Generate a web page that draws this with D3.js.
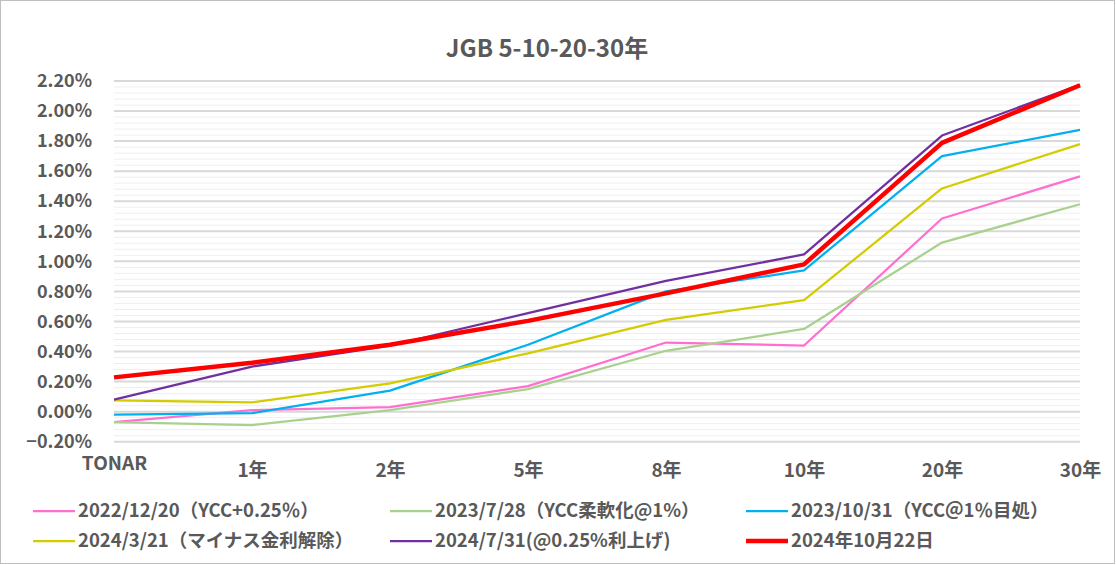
<!DOCTYPE html>
<html>
<head>
<meta charset="utf-8">
<script src="https://cdn.jsdelivr.net/npm/d3@7"></script>
<style>
  body { margin: 0; background: #fff; }
  text { font-family: "Noto Sans CJK JP", "Noto Sans", sans-serif; fill: #595959; font-weight: bold; }
</style>
</head>
<body>
<div id="chart"></div>
<script>
// --- DATA ---
var categories = ["TONAR", "1年", "2年", "5年", "8年", "10年", "20年", "30年"];
var seriesNames = [
  "2022/12/20（YCC+0.25％）",
  "2023/7/28（YCC柔軟化@1%）",
  "2023/10/31（YCC＠1％目処）",
  "2024/3/21（マイナス金利解除）",
  "2024/7/31(@0.25%利上げ)",
  "2024年10月22日"
];
var yield20221220 = [-0.07, 0.01, 0.03, 0.17, 0.46, 0.44, 1.285, 1.565];
var yield20230728 = [-0.07, -0.09, 0.01, 0.15, 0.405, 0.55, 1.125, 1.38];
var yield20231031 = [-0.02, -0.01, 0.14, 0.445, 0.80, 0.94, 1.70, 1.875];
var yield20240321 = [0.075, 0.062, 0.188, 0.388, 0.61, 0.742, 1.485, 1.78];
var yield20240731 = [0.08, 0.30, 0.44, 0.655, 0.87, 1.046, 1.837, 2.175];
var yield20241022 = [0.228, 0.325, 0.445, 0.604, 0.787, 0.98, 1.788, 2.172];
var yTicks = [-0.2, 0, 0.2, 0.4, 0.6, 0.8, 1.0, 1.2, 1.4, 1.6, 1.8, 2.0, 2.2];

var allSeries = [yield20221220, yield20230728, yield20231031, yield20240321, yield20240731, yield20241022];
var colors = ["#ff6fcf", "#a9d18e", "#00b0f0", "#d4cb00", "#7030a0", "#ff0000"];
var widths = [2.25, 2.25, 2.25, 2.25, 2.25, 4.5];

// --- SETUP ---
var width = 1116, height = 565;
var svg = d3.select("#chart").append("svg")
  .attr("width", width)
  .attr("height", height);

svg.append("rect")
  .attr("x", 0.5).attr("y", 0.5)
  .attr("width", width - 2).attr("height", height - 2)
  .attr("fill", "#fff").attr("stroke", "#bfbfbf");

var x = d3.scalePoint().domain(categories).range([114, 1080]);
var y = d3.scaleLinear().domain([-0.2, 2.2]).range([441.7, 81]);

// minor gridlines (every 0.04%)
var minor = d3.range(-0.2, 2.2001, 0.04);
svg.append("g").selectAll("line").data(minor).enter().append("line")
  .attr("x1", 114).attr("x2", 1080)
  .attr("y1", d => y(d)).attr("y2", d => y(d))
  .attr("stroke", "#efefef").attr("stroke-width", 1);

// major gridlines
svg.append("g").selectAll("line").data(yTicks).enter().append("line")
  .attr("x1", 114).attr("x2", 1080)
  .attr("y1", d => y(d)).attr("y2", d => y(d))
  .attr("stroke", "#d9d9d9").attr("stroke-width", 2);

// y axis labels
var yAxis = d3.axisLeft(y).tickValues(yTicks).tickSize(0).tickPadding(0)
  .tickFormat(d => d3.format(".2f")(d) + "%");
svg.append("g").attr("transform", "translate(92,0)").call(yAxis)
  .call(g => g.select(".domain").remove())
  .selectAll("text")
  .style("font-size", "18px")
  .attr("fill", "#595959")
  .style("font-family", null);

// x axis labels (TONAR sits a little higher, as in the original)
var xAxis = d3.axisBottom(x).tickSize(0).tickPadding(0);
svg.append("g").attr("transform", "translate(0,470)").call(xAxis)
  .call(g => g.select(".domain").remove())
  .selectAll("text")
  .style("font-size", "19px")
  .attr("fill", "#595959")
  .style("font-family", null)
  .attr("dy", (d, i) => i === 0 ? "0.0em" : "0.35em");

// --- LINES ---
var line = d3.line()
  .x((d, i) => x(categories[i]))
  .y(d => y(d));

svg.append("g").selectAll("path").data(allSeries).enter().append("path")
  .attr("d", line)
  .attr("fill", "none")
  .attr("stroke", (d, i) => colors[i])
  .attr("stroke-width", (d, i) => widths[i])
  .attr("stroke-linejoin", "round");

// --- LEGEND ---
var legendCols = [33, 390, 746];
var legendRows = [511, 541];
var legend = svg.append("g").selectAll("g").data(seriesNames).enter().append("g")
  .attr("transform", (d, i) => "translate(" + legendCols[i % 3] + "," + legendRows[Math.floor(i / 3)] + ")");
legend.append("line")
  .attr("x1", 0).attr("x2", 42)
  .attr("stroke", (d, i) => colors[i])
  .attr("stroke-width", (d, i) => widths[i]);
legend.append("text")
  .attr("x", 45).attr("dy", "0.35em")
  .style("font-size", "18.5px")
  .text(d => d);

// --- TITLE ---
svg.append("text")
  .attr("x", 547).attr("y", 57)
  .attr("text-anchor", "middle")
  .style("font-size", "24px")
  .text("JGB 5-10-20-30年");
</script>
</body>
</html>
